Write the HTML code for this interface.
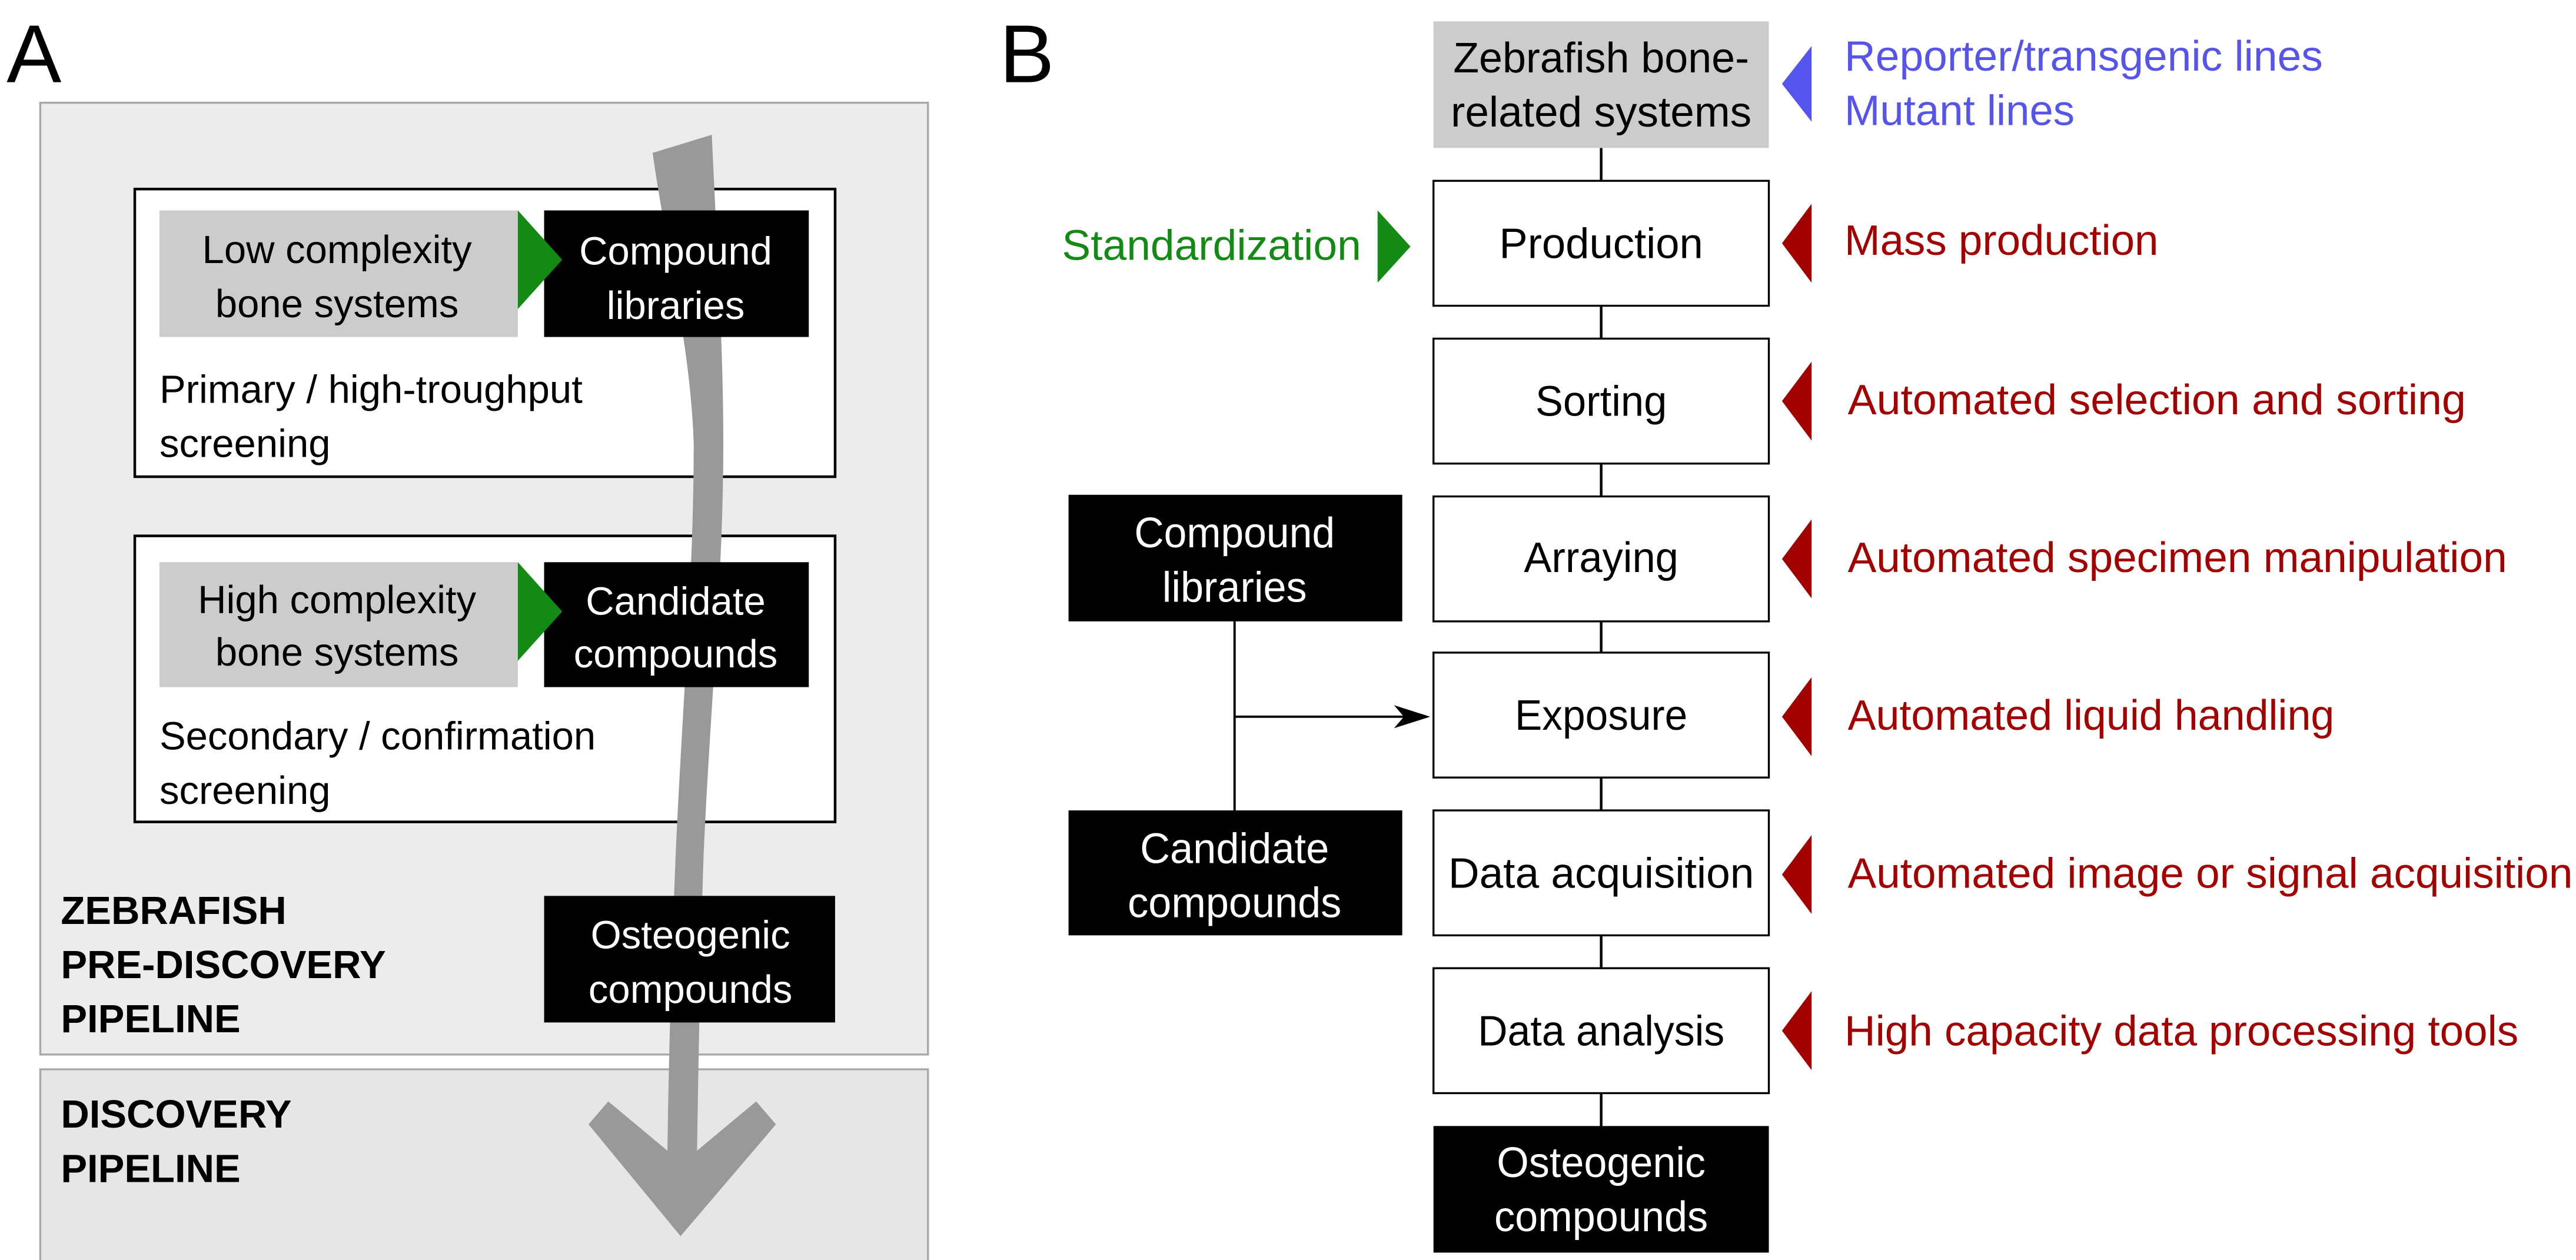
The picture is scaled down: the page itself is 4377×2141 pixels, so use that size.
<!DOCTYPE html>
<html><head><meta charset="utf-8"><style>
html,body{margin:0;padding:0;background:#fff;}
svg{display:block;}
.a{font-family:"Liberation Sans",sans-serif;font-size:24px;}
.b{font-family:"Liberation Sans",sans-serif;font-size:26px;}
</style></head><body>
<svg width="4377" height="2141" viewBox="0 0 1567 766.5" preserveAspectRatio="none" xmlns="http://www.w3.org/2000/svg">
<rect width="1567" height="767" fill="#fff"/>
<!-- Panel A -->
<text x="4" y="50" font-family="Liberation Sans,sans-serif" font-size="50">A</text>
<rect x="24.5" y="62.5" width="540" height="579" fill="#ececec" stroke="#a8a8a8" stroke-width="1.2"/>
<rect x="24.5" y="650.5" width="540" height="120" fill="#e6e6e6" stroke="#a8a8a8" stroke-width="1.2"/>
<rect x="82" y="115" width="426" height="175" fill="#fff" stroke="#000" stroke-width="1.6"/>
<rect x="82" y="326" width="426" height="174" fill="#fff" stroke="#000" stroke-width="1.6"/>
<!-- gray arrow -->
<path d="M397,93 L433,82 C436,150 440,210 440,270 C440,350 432,430 428,520 C426,580 425,640 424,700 L460,670 L472,684 L414,752 L358,684 L370,670 L406,700 C407,630 409,570 411,520 C415,430 422,350 422,270 C420,210 405,150 397,93 Z" fill="#999"/>
<rect x="97" y="128" width="218" height="77" fill="#cccccc"/>
<rect x="331" y="128" width="161" height="77" fill="#000"/>
<polygon points="315,128 342,158 315,188" fill="#138a13"/>
<rect x="97" y="342" width="218" height="76" fill="#cccccc"/>
<rect x="331" y="342" width="161" height="76" fill="#000"/>
<polygon points="315,342 342,372 315,402" fill="#138a13"/>
<rect x="331" y="545" width="177" height="77" fill="#000"/>
<g class="a" text-anchor="middle">
<text x="205" y="160">Low complexity</text>
<text x="205" y="193">bone systems</text>
<text x="411" y="161" fill="#fff">Compound</text>
<text x="411" y="194" fill="#fff">libraries</text>
<text x="205" y="373">High complexity</text>
<text x="205" y="405">bone systems</text>
<text x="411" y="374" fill="#fff">Candidate</text>
<text x="411" y="406" fill="#fff">compounds</text>
<text x="420" y="577" fill="#fff">Osteogenic</text>
<text x="420" y="610" fill="#fff">compounds</text>
</g>
<g class="a">
<text x="97" y="245">Primary / high-troughput</text>
<text x="97" y="278">screening</text>
<text x="97" y="456">Secondary / confirmation</text>
<text x="97" y="489">screening</text>
<g font-weight="bold">
<text x="37" y="562">ZEBRAFISH</text>
<text x="37" y="595">PRE-DISCOVERY</text>
<text x="37" y="628">PIPELINE</text>
<text x="37" y="686">DISCOVERY</text>
<text x="37" y="719">PIPELINE</text>
</g>
</g>
<!-- Panel B -->
<text x="608" y="50" font-family="Liberation Sans,sans-serif" font-size="50">B</text>
<line x1="974" y1="90" x2="974" y2="686" stroke="#000" stroke-width="1.6"/>
<rect x="872" y="13" width="204" height="77" fill="#cccccc"/>
<g fill="#fff" stroke="#000" stroke-width="1.2">
<rect x="872" y="110" width="204" height="76"/>
<rect x="872" y="206" width="204" height="76"/>
<rect x="872" y="302" width="204" height="76"/>
<rect x="872" y="397" width="204" height="76"/>
<rect x="872" y="493" width="204" height="76"/>
<rect x="872" y="589" width="204" height="76"/>
</g>
<rect x="872" y="685" width="204" height="77" fill="#000"/>
<rect x="650" y="301" width="203" height="77" fill="#000"/>
<rect x="650" y="493" width="203" height="76" fill="#000"/>
<line x1="751" y1="378" x2="751" y2="493" stroke="#000" stroke-width="1.4"/>
<line x1="751" y1="436" x2="866" y2="436" stroke="#000" stroke-width="1.4"/>
<polygon points="870,436 848,429 854,436 848,443" fill="#000"/>
<polygon points="838,128 858,150 838,172" fill="#138a13"/>
<polygon points="1102,28 1084,51 1102,74" fill="#5555ee"/>
<g fill="#a30000">
<polygon points="1102,124 1084,148 1102,172"/>
<polygon points="1102,220 1084,244 1102,268"/>
<polygon points="1102,316 1084,340 1102,364"/>
<polygon points="1102,412 1084,436 1102,460"/>
<polygon points="1102,508 1084,532 1102,556"/>
<polygon points="1102,603 1084,627 1102,651"/>
</g>
<g class="b" text-anchor="middle" lengthAdjust="spacingAndGlyphs">
<text x="974" y="44" textLength="180" lengthAdjust="spacingAndGlyphs">Zebrafish bone-</text>
<text x="974" y="77" textLength="183" lengthAdjust="spacingAndGlyphs">related systems</text>
<text x="974" y="157" textLength="124" lengthAdjust="spacingAndGlyphs">Production</text>
<text x="974" y="253" textLength="80" lengthAdjust="spacingAndGlyphs">Sorting</text>
<text x="974" y="348" textLength="94" lengthAdjust="spacingAndGlyphs">Arraying</text>
<text x="974" y="444" textLength="105" lengthAdjust="spacingAndGlyphs">Exposure</text>
<text x="974" y="540" textLength="186" lengthAdjust="spacingAndGlyphs">Data acquisition</text>
<text x="974" y="636" textLength="150" lengthAdjust="spacingAndGlyphs">Data analysis</text>
<text x="974" y="716" fill="#fff" textLength="127" lengthAdjust="spacingAndGlyphs">Osteogenic</text>
<text x="974" y="749" fill="#fff" textLength="130" lengthAdjust="spacingAndGlyphs">compounds</text>
<text x="751" y="333" fill="#fff" textLength="122" lengthAdjust="spacingAndGlyphs">Compound</text>
<text x="751" y="366" fill="#fff" textLength="88" lengthAdjust="spacingAndGlyphs">libraries</text>
<text x="751" y="525" fill="#fff" textLength="115" lengthAdjust="spacingAndGlyphs">Candidate</text>
<text x="751" y="558" fill="#fff" textLength="130" lengthAdjust="spacingAndGlyphs">compounds</text>
</g>
<g class="b">
<text x="646" y="158" fill="#138a13" textLength="182" lengthAdjust="spacingAndGlyphs">Standardization</text>
<text x="1122" y="43" fill="#5555ee" textLength="291" lengthAdjust="spacingAndGlyphs">Reporter/transgenic lines</text>
<text x="1122" y="76" fill="#5555ee" textLength="140" lengthAdjust="spacingAndGlyphs">Mutant lines</text>
<g fill="#a30000">
<text x="1122" y="155" textLength="191" lengthAdjust="spacingAndGlyphs">Mass production</text>
<text x="1124" y="252" textLength="376" lengthAdjust="spacingAndGlyphs">Automated selection and sorting</text>
<text x="1124" y="348" textLength="401" lengthAdjust="spacingAndGlyphs">Automated specimen manipulation</text>
<text x="1124" y="444" textLength="296" lengthAdjust="spacingAndGlyphs">Automated liquid handling</text>
<text x="1124" y="540" textLength="441" lengthAdjust="spacingAndGlyphs">Automated image or signal acquisition</text>
<text x="1122" y="636" textLength="410" lengthAdjust="spacingAndGlyphs">High capacity data processing tools</text>
</g>
</g>
</svg>
</body></html>
